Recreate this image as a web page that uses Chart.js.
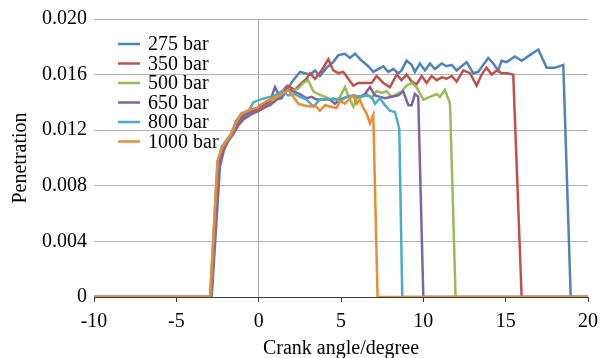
<!DOCTYPE html>
<html>
<head>
<meta charset="utf-8">
<script src="https://cdn.jsdelivr.net/npm/chart.js@4/dist/chart.umd.min.js"></script>
<style>
  html, body { margin: 0; padding: 0; background: #fff; }
  #wrap { width: 603px; height: 358px; }
</style>
</head>
<body>
<div id="wrap"><canvas id="chart" width="603" height="358"></canvas></div>
<script>
/* ---------- Data: [crank angle, penetration] ---------- */
const labels = ['275 bar', '350 bar', '500 bar', '650 bar', '800 bar', '1000 bar'];
const xTicks = [-10, -5, 0, 5, 10, 15, 20];
const yTicks = [0, 0.004, 0.008, 0.012, 0.016, 0.020];

const p275 = [[-10,0],[-2.85,0],[-2.35,0.0094],[-2.1,0.0106],[-1.85,0.0112],[-1.55,0.0117],[-1.2,0.0124],
  [-0.9,0.0128],[-0.5,0.0131],[0,0.0134],[0.3,0.0136],[0.7,0.0138],[1.09,0.0142],[1.4,0.0143],[1.7,0.0149],
  [2.1,0.0156],[2.51,0.0162],[2.81,0.0161],[3.12,0.0160],[3.42,0.0163],[3.72,0.0159],[4.13,0.0165],[4.53,0.0169],
  [4.84,0.0174],[5.24,0.0175],[5.54,0.0172],[5.85,0.0175],[6.25,0.0170],[6.66,0.0166],[6.96,0.0162],[7.26,0.0164],
  [7.57,0.0166],[7.87,0.0162],[8.17,0.0164],[8.48,0.0161],[8.68,0.0163],[8.98,0.0170],[9.29,0.0167],[9.49,0.0162],
  [9.79,0.0168],[10.1,0.0163],[10.4,0.0168],[10.7,0.0164],[11.11,0.0168],[11.41,0.0166],[11.72,0.0167],[12.02,0.0163],
  [12.33,0.0166],[12.63,0.0169],[13.03,0.0161],[13.34,0.0162],[13.64,0.0167],[13.94,0.0172],[14.25,0.0168],
  [14.55,0.0163],[14.75,0.0170],[15.06,0.0169],[15.56,0.0173],[15.97,0.0170],[16.47,0.0174],[16.98,0.0178],
  [17.49,0.0165],[17.99,0.0165],[18.5,0.0167],[18.95,0],[20,0]];

const p350 = [[-10,0],[-2.9,0],[-2.4,0.0095],[-2.15,0.0106],[-1.9,0.0112],[-1.6,0.0117],[-1.25,0.0124],
  [-0.95,0.0129],[-0.5,0.0132],[0,0.0134],[0.3,0.0136],[0.6,0.0139],[1.0,0.0141],[1.5,0.0149],[1.74,0.0152],
  [2.2,0.0149],[2.61,0.0154],[2.91,0.0157],[3.12,0.0161],[3.42,0.0157],[3.82,0.0163],[4.23,0.0171],[4.53,0.0163],
  [4.84,0.0161],[5.14,0.0162],[5.44,0.0157],[5.75,0.0152],[6.05,0.0154],[6.45,0.0154],[6.86,0.0154],[7.16,0.0159],
  [7.57,0.0154],[7.97,0.0151],[8.38,0.0160],[8.68,0.0156],[8.98,0.0160],[9.29,0.0155],[9.59,0.0153],[9.9,0.0159],
  [10.2,0.0154],[10.5,0.0159],[10.81,0.0156],[11.11,0.0158],[11.41,0.0157],[11.72,0.0159],[12.02,0.0155],
  [12.43,0.0163],[12.83,0.0161],[13.24,0.0152],[13.54,0.0160],[13.84,0.0165],[14.15,0.0160],[14.45,0.0163],
  [14.75,0.0161],[15.06,0.0161],[15.46,0.0160],[15.97,0],[20,0]];

const p500 = [[-10,0],[-2.9,0],[-2.45,0.0097],[-2.2,0.0107],[-1.95,0.0112],[-1.65,0.0117],[-1.3,0.0125],
  [-1.0,0.0130],[-0.5,0.0133],[0,0.0136],[0.4,0.0139],[0.9,0.0142],[1.2,0.0145],[1.5,0.0149],[2.0,0.0148],
  [2.41,0.0150],[2.71,0.0154],[3.01,0.0156],[3.32,0.0148],[3.62,0.0146],[4.03,0.0144],[4.43,0.0142],[4.73,0.0142],
  [4.94,0.0144],[5.24,0.0151],[5.54,0.0142],[5.75,0.0137],[5.95,0.0143],[6.25,0.0144],[6.56,0.0146],[6.86,0.0143],
  [7.16,0.0148],[7.47,0.0147],[7.77,0.0148],[8.07,0.0144],[8.38,0.0146],[8.68,0.0148],[8.98,0.0152],[9.29,0.0154],
  [9.59,0.0151],[10.0,0.0142],[10.4,0.0144],[10.81,0.0146],[11.01,0.0144],[11.31,0.0149],[11.62,0.0139],
  [11.96,0],[20,0]];

const p650 = [[-10,0],[-2.9,0],[-2.45,0.0096],[-2.2,0.0107],[-1.95,0.0112],[-1.65,0.0117],[-1.3,0.0125],
  [-1.0,0.0130],[-0.5,0.0133],[0,0.0136],[0.4,0.0139],[0.7,0.0141],[0.99,0.0151],[1.29,0.0144],[1.7,0.0150],
  [2.1,0.0148],[2.51,0.0146],[2.91,0.0143],[3.22,0.0144],[3.52,0.0142],[3.92,0.0142],[4.33,0.0142],[4.63,0.0139],
  [4.94,0.0142],[5.34,0.0144],[5.75,0.0145],[6.15,0.0144],[6.45,0.0146],[6.76,0.0151],[7.06,0.0145],[7.37,0.0144],
  [7.67,0.0143],[8.07,0.0144],[8.48,0.0145],[8.78,0.0148],[9.09,0.0138],[9.29,0.0138],[9.49,0.0146],[9.69,0.0144],
  [10.0,0],[20,0]];

const p800 = [[-10,0],[-2.95,0],[-2.5,0.0097],[-2.25,0.0108],[-1.95,0.0113],[-1.7,0.0117],[-1.35,0.0127],
  [-1.05,0.0132],[-0.6,0.0134],[-0.33,0.0140],[0.08,0.0142],[0.38,0.0143],[0.69,0.0144],[0.99,0.0145],[1.4,0.0148],
  [1.8,0.0145],[2.2,0.0146],[2.51,0.0144],[2.91,0.0142],[3.32,0.0137],[3.72,0.0142],[4.23,0.0142],[4.53,0.0143],
  [4.94,0.0141],[5.34,0.0144],[5.75,0.0145],[6.15,0.0144],[6.56,0.0145],[6.86,0.0144],[7.06,0.0139],[7.37,0.0143],
  [7.67,0.0138],[7.97,0.0134],[8.28,0.0133],[8.54,0.0121],[8.72,0],[20,0]];

const p1000 = [[-10,0],[-2.95,0],[-2.5,0.0098],[-2.2,0.0108],[-1.9,0.0113],[-1.7,0.0116],[-1.35,0.0126],
  [-1.05,0.0132],[-0.5,0.0135],[-0.1,0.0136],[0.08,0.0138],[0.48,0.0141],[0.89,0.0143],[1.29,0.0145],[1.8,0.0149],
  [2.1,0.0144],[2.41,0.0139],[2.71,0.0138],[3.12,0.0137],[3.42,0.0138],[3.72,0.0134],[4.03,0.0138],[4.33,0.0137],
  [4.73,0.0136],[4.94,0.0141],[5.24,0.0139],[5.54,0.0143],[5.75,0.0145],[5.95,0.0139],[6.15,0.0142],[6.35,0.0136],
  [6.56,0.0132],[6.76,0.0125],[6.96,0.0131],[7.22,0],[20,0]];

const series = [p275, p350, p500, p650, p800, p1000];
const colors = ['#4F81BD', '#C0504D', '#9BBB59', '#8064A2', '#4BACC6', '#EB8C35'];

const FONT = "'Liberation Serif', 'Times New Roman', serif";

/* ---------- Legend drawn inside the plot ---------- */
const insideLegend = {
    id: 'insideLegend',
    afterDatasetsDraw(chart) {
        const ctx = chart.ctx;
        ctx.save();
        ctx.font = '20px ' + FONT;
        ctx.textBaseline = 'middle';
        ctx.lineWidth = 2.5;
        chart.data.datasets.forEach((ds, i) => {
            const y = 44 + i * 19.5;
            ctx.strokeStyle = ds.borderColor;
            ctx.beginPath();
            ctx.moveTo(118, y);
            ctx.lineTo(140, y);
            ctx.stroke();
            ctx.fillStyle = '#000';
            ctx.fillText(ds.label, 148, y + 1);
        });
        ctx.restore();
    }
};

const datasets = series.map((pts, i) => ({
    label: labels[i],
    data: pts.map(p => ({ x: p[0], y: p[1] })),
    borderColor: colors[i],
    borderWidth: 2.5,
    pointRadius: 0,
    tension: 0,
    fill: false,
    order: series.length - i
}));

new Chart(document.getElementById('chart').getContext('2d'), {
    type: 'line',
    data: { datasets },
    options: {
        responsive: false,
        animation: false,
        layout: { padding: { left: 0, right: 15, top: 19, bottom: 0 } },
        plugins: { legend: { display: false }, tooltip: { enabled: false } },
        scales: {
            x: {
                type: 'linear',
                min: -10, max: 20,
                afterBuildTicks: s => { s.ticks = xTicks.map(v => ({ value: v })); },
                afterFit: s => { s.height = 61; s.paddingRight = 12; s.paddingLeft = 12; },
                border: { display: true, color: '#404040', width: 1 },
                grid: {
                    color: c => c.tick && c.tick.value === 0 ? '#a6a6a6' : 'rgba(0,0,0,0)',
                    drawTicks: true, tickLength: 5, tickColor: '#404040'
                },
                ticks: { color: '#000', font: { family: FONT, size: 20 }, padding: 8, maxRotation: 0 },
                title: { display: true, text: 'Crank angle/degree', color: '#000',
                         font: { family: FONT, size: 20 }, padding: { top: 0, bottom: -3 } }
            },
            y: {
                min: 0, max: 0.020,
                afterBuildTicks: s => { s.ticks = yTicks.map(v => ({ value: v })); },
                afterFit: s => { s.width = 94; },
                border: { display: false },
                grid: {
                    color: c => c.tick && c.tick.value === 0 ? 'rgba(0,0,0,0)' : '#b3b3b3',
                    drawTicks: false
                },
                ticks: {
                    color: '#000', font: { family: FONT, size: 20 }, padding: 7,
                    callback: v => v === 0 ? '0' : v.toFixed(3)
                },
                title: { display: true, text: 'Penetration', color: '#000',
                         font: { family: FONT, size: 20 }, padding: { top: 9, bottom: 0 } }
            }
        }
    },
    plugins: [insideLegend]
});
</script>
</body>
</html>
